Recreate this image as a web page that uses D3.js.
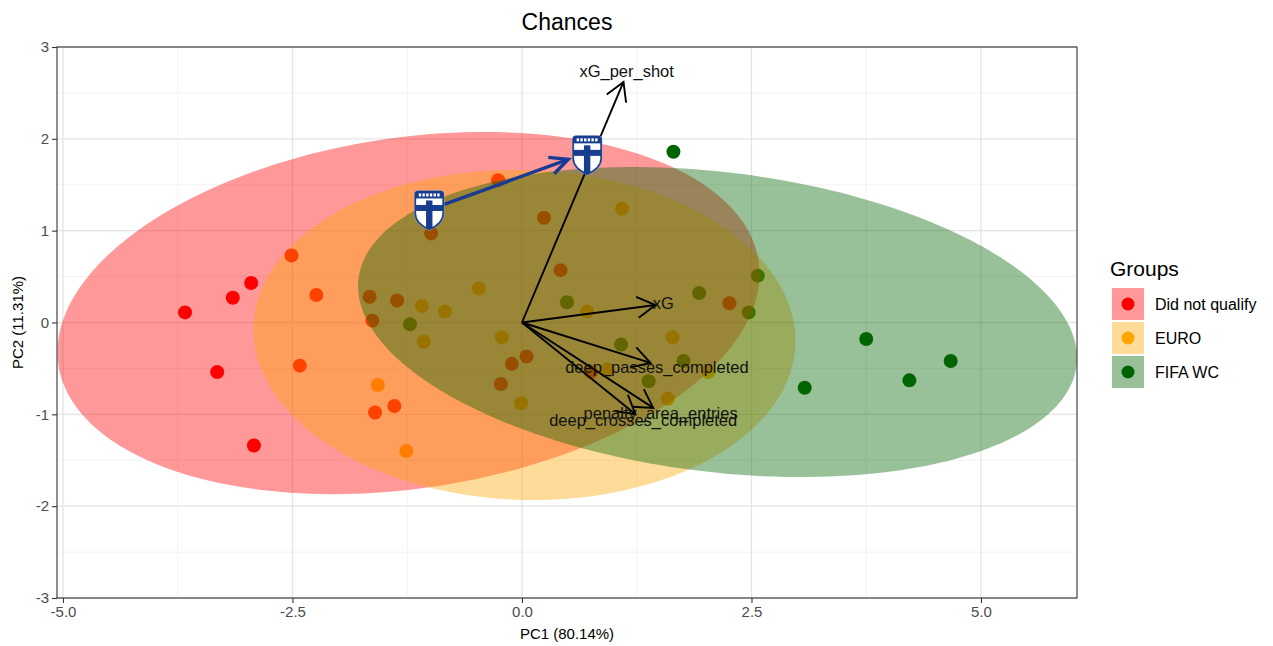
<!DOCTYPE html>
<html><head><meta charset="utf-8">
<script src="https://cdn.jsdelivr.net/npm/d3@7"></script>
<style>
body{margin:0;background:#fff;}
text{font-family:"Liberation Sans", Arial, sans-serif;}
</style>
</head><body>
<svg id="chart" width="1273" height="646"></svg>
<script>
// ---------------- DATA ----------------
const groups = ["Did not qualify", "EURO", "FIFA WC"];
const groupColors = ["#FF0000", "#FFA500", "#006400"];

const didNotQualifyPC1 = [-3.67,-3.32,-3.15,-2.95,-2.92,-2.51,-2.24,-2.42,-1.60,-1.39,-0.26,-1.63,-1.66,-1.36,0.05,-0.11,-0.23,0.42,-0.99,0.24,0.75,2.26];
const didNotQualifyPC2 = [0.11,-0.54,0.27,0.43,-1.34,0.73,0.30,-0.47,-0.98,-0.91,1.55,0.02,0.28,0.24,-0.37,-0.45,-0.67,0.57,0.97,1.14,-0.54,0.21];

const euroPC1 = [-1.57,-1.26,-1.09,-0.84,-0.47,-1.07,-0.22,-0.01,1.09,0.71,1.64,2.03,0.93,1.59];
const euroPC2 = [-0.68,-1.40,0.18,0.12,0.37,-0.21,-0.16,-0.88,1.24,0.12,-0.16,-0.54,-0.51,-0.83];

const fifaWcPC1 = [1.65,3.75,3.08,4.22,4.67,-1.22,0.49,1.93,2.57,2.47,1.08,1.76,1.38];
const fifaWcPC2 = [1.86,-0.18,-0.71,-0.63,-0.42,-0.02,0.22,0.32,0.51,0.11,-0.24,-0.42,-0.64];

// ellipse parameters per group (center, half extents, correlation)
const ellipseCenterX = [-1.236, 0.027, 2.130];
const ellipseCenterY = [0.103, -0.136, 0.005];
const ellipseHalfX = [3.824, 2.952, 3.916];
const ellipseHalfY = [1.972, 1.797, 1.688];
const ellipseCorr = [0.2155, -0.034, -0.232];

// variable loadings (arrow tips) and label positions
const varNames = ["xG_per_shot", "xG", "deep_passes_completed", "penalty_area_entries", "deep_crosses_completed"];
const varPC1 = [1.106, 1.454, 1.40, 1.43, 1.236];
const varPC2 = [2.62, 0.19, -0.44, -0.93, -1.00];
const varLabelPC1 = [1.14, 1.54, 1.47, 1.51, 1.32];
const varLabelPC2 = [2.74, 0.21, -0.485, -0.985, -1.06];

// Finland positions (badges)
const finlandPC1 = [-1.01, 0.71];
const finlandPC2 = [1.22, 1.82];

const xTicks = [-5, -2.5, 0, 2.5, 5];
const xTickLabels = ["-5.0", "-2.5", "0.0", "2.5", "5.0"];
const yTicks = [-3, -2, -1, 0, 1, 2, 3];
const yTickLabels = ["-3", "-2", "-1", "0", "1", "2", "3"];
const xMinor = [-3.75, -1.25, 1.25, 3.75];
const yMinor = [-2.5, -1.5, -0.5, 0.5, 1.5, 2.5];

// ---------------- LAYOUT ----------------
const svg = d3.select("#chart");
const panel = {left: 57, right: 1077, top: 47, bottom: 598};
const x = d3.scaleLinear().domain([-5.065, 6.046]).range([panel.left, panel.right]);
const y = d3.scaleLinear().domain([-3, 3]).range([panel.bottom, panel.top]);

svg.append("defs").append("clipPath").attr("id", "panelClip")
  .append("rect").attr("x", panel.left).attr("y", panel.top)
  .attr("width", panel.right - panel.left).attr("height", panel.bottom - panel.top);

// grid
const grid = svg.append("g");
grid.selectAll(".xmin").data(xMinor).enter().append("line")
  .attr("x1", d => x(d)).attr("x2", d => x(d)).attr("y1", panel.top).attr("y2", panel.bottom)
  .attr("stroke", "#EFEFEF").attr("stroke-width", 0.8);
grid.selectAll(".ymin").data(yMinor).enter().append("line")
  .attr("y1", d => y(d)).attr("y2", d => y(d)).attr("x1", panel.left).attr("x2", panel.right)
  .attr("stroke", "#EFEFEF").attr("stroke-width", 0.8);
grid.selectAll(".xmaj").data(xTicks).enter().append("line")
  .attr("x1", d => x(d)).attr("x2", d => x(d)).attr("y1", panel.top).attr("y2", panel.bottom)
  .attr("stroke", "#E4E4E4").attr("stroke-width", 1.3);
grid.selectAll(".ymaj").data(yTicks).enter().append("line")
  .attr("y1", d => y(d)).attr("y2", d => y(d)).attr("x1", panel.left).attr("x2", panel.right)
  .attr("stroke", "#E4E4E4").attr("stroke-width", 1.3);

// points
const pts = [];
[[didNotQualifyPC1, didNotQualifyPC2], [euroPC1, euroPC2], [fifaWcPC1, fifaWcPC2]].forEach((arr, g) => {
  arr[0].forEach((v, i) => pts.push({g: g, x: v, y: arr[1][i]}));
});
const plot = svg.append("g").attr("clip-path", "url(#panelClip)");
plot.selectAll("circle.pt").data(pts).enter().append("circle")
  .attr("cx", d => x(d.x)).attr("cy", d => y(d.y)).attr("r", 7)
  .attr("fill", d => groupColors[d.g]);

// ellipses (drawn over points, translucent)
groups.forEach((g, i) => {
  const n = 200, poly = [];
  const s = Math.sqrt(1 - ellipseCorr[i] * ellipseCorr[i]);
  for (let k = 0; k <= n; k++) {
    const t = 2 * Math.PI * k / n;
    const ex = ellipseCenterX[i] + ellipseHalfX[i] * Math.cos(t);
    const ey = ellipseCenterY[i] + ellipseHalfY[i] * (ellipseCorr[i] * Math.cos(t) + s * Math.sin(t));
    poly.push([x(ex), y(ey)]);
  }
  plot.append("path").attr("d", d3.line()(poly) + "Z")
    .attr("fill", groupColors[i]).attr("fill-opacity", 0.4).attr("stroke", "none");
});

// variable arrows
const ox = x(0), oy = y(0);
function arrowHead(g, tx, ty, fx, fy, len, ang, color, width) {
  const a = Math.atan2(fy - ty, fx - tx);
  const p1 = [tx + len * Math.cos(a + ang), ty + len * Math.sin(a + ang)];
  const p2 = [tx + len * Math.cos(a - ang), ty + len * Math.sin(a - ang)];
  g.append("path").attr("d", `M${p1[0]},${p1[1]}L${tx},${ty}L${p2[0]},${p2[1]}`)
    .attr("fill", "none").attr("stroke", color).attr("stroke-width", width)
    .attr("stroke-linejoin", "miter").attr("stroke-linecap", "butt");
}
const arrows = svg.append("g");
varNames.forEach((nm, i) => {
  const tx = x(varPC1[i]), ty = y(varPC2[i]);
  arrows.append("line").attr("x1", ox).attr("y1", oy).attr("x2", tx).attr("y2", ty)
    .attr("stroke", "#000").attr("stroke-width", 1.9);
  arrowHead(arrows, tx, ty, ox, oy, 21, Math.PI / 6, "#000", 1.9);
});
varNames.forEach((nm, i) => {
  arrows.append("text").attr("x", x(varLabelPC1[i])).attr("y", y(varLabelPC2[i]))
    .attr("text-anchor", "middle").attr("dominant-baseline", "central")
    .attr("font-size", 16.5).attr("fill", "#111").text(nm);
});

// Finland movement arrow
const fin = svg.append("g");
const b1 = [x(finlandPC1[0]), y(finlandPC2[0])];
const b2 = [x(finlandPC1[1]), y(finlandPC2[1])];
const as = [b1[0] + 15, b1[1] - 6], ae = [b2[0] - 19, b2[1] + 4];
fin.append("line").attr("x1", as[0]).attr("y1", as[1]).attr("x2", ae[0]).attr("y2", ae[1])
  .attr("stroke", "#1A3A93").attr("stroke-width", 3.5);
arrowHead(fin, ae[0], ae[1], as[0], as[1], 20, Math.PI / 7, "#1A3A93", 3.5);

// Finland badges
const blue = "#173E8E";
const shield = "M-14,-16 Q-14,-19 -11,-19 L11,-19 Q14,-19 14,-16 L14,3 Q14,13 0,19 Q-14,13 -14,3 Z";
svg.select("defs").append("clipPath").attr("id", "shieldClip").append("path").attr("d", shield);
[b1, b2].forEach(b => {
  const g = fin.append("g").attr("transform", `translate(${b[0]},${b[1]})`);
  g.append("path").attr("d", shield).attr("fill", "#fff").attr("stroke", "#9AA6C0").attr("stroke-width", 2.2);
  const inner = g.append("g").attr("clip-path", "url(#shieldClip)");
  inner.append("rect").attr("x", -14).attr("y", -19).attr("width", 28).attr("height", 7).attr("fill", blue);
  for (let k = 0; k < 6; k++) {
    inner.append("rect").attr("x", -10.5 + k * 3.7).attr("y", -17).attr("width", 2.4).attr("height", 3).attr("fill", "#fff");
  }
  inner.append("rect").attr("x", -3.2).attr("y", -10).attr("width", 6.4).attr("height", 30).attr("fill", blue);
  inner.append("rect").attr("x", -14).attr("y", -5.5).attr("width", 28).attr("height", 6).attr("fill", blue);
  g.append("path").attr("d", shield).attr("fill", "none").attr("stroke", blue).attr("stroke-width", 1.4);
});

// panel border
svg.append("rect").attr("x", panel.left).attr("y", panel.top)
  .attr("width", panel.right - panel.left).attr("height", panel.bottom - panel.top)
  .attr("fill", "none").attr("stroke", "#333").attr("stroke-width", 1.1);

// axes
const xAxis = d3.axisBottom(x).tickValues(xTicks).tickSize(5).tickPadding(3)
  .tickFormat((d, i) => xTickLabels[i]);
const gx = svg.append("g").attr("transform", `translate(0,${panel.bottom})`).call(xAxis);
const yAxis = d3.axisLeft(y).tickValues(yTicks).tickSize(5).tickPadding(3)
  .tickFormat((d, i) => yTickLabels[i]);
const gy = svg.append("g").attr("transform", `translate(${panel.left},0)`).call(yAxis);
[gx, gy].forEach(g => {
  g.select(".domain").remove();
  g.selectAll(".tick line").attr("stroke", "#333").attr("stroke-width", 1.1);
  g.selectAll(".tick text").attr("fill", "#4D4D4D").attr("font-size", 15)
    .attr("font-family", "Liberation Sans, Arial, sans-serif");
});

// titles
svg.append("text").attr("x", (panel.left + panel.right) / 2).attr("y", 30)
  .attr("text-anchor", "middle").attr("font-size", 23).attr("fill", "#000").text("Chances");
svg.append("text").attr("x", (panel.left + panel.right) / 2).attr("y", 639)
  .attr("text-anchor", "middle").attr("font-size", 15).attr("fill", "#000").text("PC1 (80.14%)");
svg.append("text").attr("transform", `translate(23,${(panel.top + panel.bottom) / 2}) rotate(-90)`)
  .attr("text-anchor", "middle").attr("font-size", 15).attr("fill", "#000").text("PC2 (11.31%)");

// legend
const lg = svg.append("g");
lg.append("text").attr("x", 1110).attr("y", 276).attr("font-size", 21).attr("fill", "#000").text("Groups");
groups.forEach((g, i) => {
  const yy = 288 + i * 34;
  lg.append("rect").attr("x", 1112).attr("y", yy).attr("width", 32).attr("height", 32)
    .attr("fill", groupColors[i]).attr("fill-opacity", 0.4);
  lg.append("circle").attr("cx", 1128).attr("cy", yy + 16).attr("r", 6.5).attr("fill", groupColors[i]);
  lg.append("text").attr("x", 1155).attr("y", yy + 16).attr("dominant-baseline", "central")
    .attr("font-size", 16).attr("fill", "#000").text(g);
});
</script>
</body></html>
